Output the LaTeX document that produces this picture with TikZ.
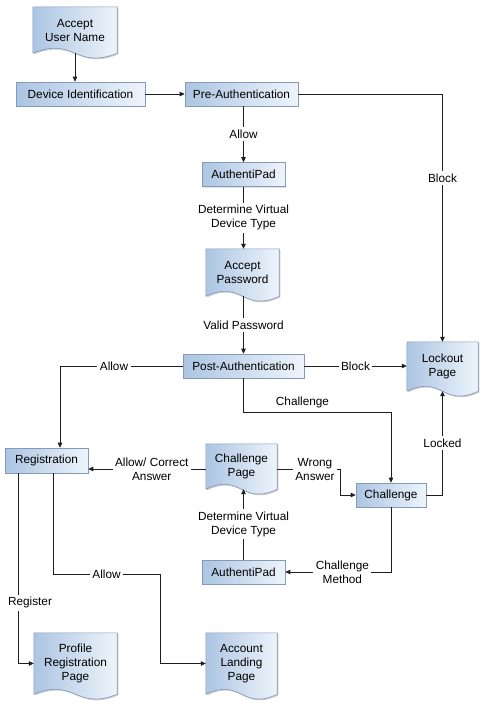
\documentclass[tikz,border=0pt]{standalone}
\usepackage{fontspec}
\setmainfont{Liberation Sans}
\usetikzlibrary{arrows.meta,calc,backgrounds,shadows}
\definecolor{boxL}{RGB}{172,197,226}
\definecolor{boxR}{RGB}{238,244,251}
\definecolor{boxB}{RGB}{130,155,188}
\definecolor{lineC}{RGB}{30,30,30}
\newcommand\docpath[3]{($(#1.north west)+(#2,#3)$) -- ($(#1.north east)+(#2,#3)$) -- ($(#1.south east)+(#2,#3)$) .. controls ($(#1.south)+(#2,#3+17)$) and ($(#1.south)+(#2,#3-17)$) .. ($(#1.south west)+(#2,#3)$) -- cycle}
\tikzset{
 basetext/.style={font=\fontsize{11.8}{14}\selectfont, align=center},
 box/.style={basetext, rectangle, draw=boxB, line width=0.6pt, left color=boxL, right color=boxR,
   minimum height=24pt, inner sep=0pt,
   drop shadow={shadow xshift=1.2pt, shadow yshift=-1.2pt, opacity=0.22}},
 doc/.style={basetext, rectangle, inner sep=0pt},
 docshape/.style={draw=boxB, line width=0.6pt, left color=boxL, right color=boxR},
 docshadow/.style={fill=black, opacity=0.2},
 arr/.style={draw=lineC, line width=0.75pt, -{Triangle[length=5pt,width=4.5pt]}},
 lbl/.style={basetext, fill=white, inner sep=2.5pt},
}
\begin{document}
\begin{tikzpicture}[x=1pt,y=-1pt]
\useasboundingbox (0,0) rectangle (486,705);
% process boxes
\node[box, minimum width=129pt] (devid) at (80.5,94) {Device Identification};
\node[box, minimum width=113pt] (preauth) at (241.5,94) {Pre-Authentication};
\node[box, minimum width=83pt] (authpad1) at (243.5,174.5) {AuthentiPad};
\node[box, minimum width=121pt] (postauth) at (243.5,366) {Post-Authentication};
\node[box, minimum width=83pt, minimum height=25pt] (reg) at (46.5,460.5) {Registration};
\node[box, minimum width=70pt] (challenge) at (391,495) {Challenge};
\node[box, minimum width=83pt] (authpad2) at (243.5,572) {AuthentiPad};
% document nodes
\node[doc, minimum width=84pt, minimum height=46pt] (aun) at (75,30) {Accept\\User Name};
\node[doc, minimum width=73pt, minimum height=47pt] (apw) at (242.5,272.5) {Accept\\Password};
\node[doc, minimum width=71pt, minimum height=49pt] (lock) at (442.5,366.5) {Lockout\\Page};
\node[doc, minimum width=71pt, minimum height=45pt] (chp) at (241.5,466.5) {Challenge\\Page};
\node[doc, minimum width=83pt, minimum height=61pt] (prp) at (75.5,663.5) {Profile\\Registration\\Page};
\node[doc, minimum width=71pt, minimum height=61pt] (alp) at (241.5,663.5) {Account\\Landing\\Page};
\begin{scope}[on background layer]
\foreach \n in {aun,apw,lock,chp,prp,alp}{
  \path[docshadow] \docpath{\n}{1.2}{1.2};
  \path[docshape] \docpath{\n}{0}{0};
}
\end{scope}
\coordinate (chpE) at ([yshift=-2.5pt]chp.east);
\coordinate (chpW) at ([yshift=-2.5pt]chp.west);
% connectors
\draw[arr] (aun.south) -- (aun.south |- devid.north);
\draw[arr] (devid.east) -- (preauth.west);
\draw[arr] (preauth.south -| authpad1.north) -- node[lbl]{Allow} (authpad1.north);
\draw[arr] (authpad1.south) -- node[lbl]{Determine Virtual\\Device Type} (authpad1.south |- apw.north);
\draw[arr] (apw.south -| postauth.north) -- node[lbl]{Valid Password} (postauth.north);
\draw[arr] (preauth.east) -| node[lbl,pos=0.67]{Block} (lock.north);
\draw[arr] (postauth.east) -- node[lbl]{Block} (postauth.east -| lock.west);
\draw[arr] (postauth.west) -| node[lbl,pos=0.28]{Allow} ([xshift=13.5pt]reg.north);
\draw[arr] (postauth.south) |- node[basetext,pos=0.70,above=1pt]{Challenge} ($(challenge.north)+(0,-70)$) -- (challenge.north);
\draw[arr] (challenge.east) -| node[lbl,pos=0.75]{Locked} (lock.south);
\draw[arr] (challenge.south) |- node[lbl,pos=0.73]{Challenge\\Method} (authpad2.east);
\draw[arr] (authpad2.north) -- node[lbl]{Determine Virtual\\Device Type} (authpad2.north |- chp.south);
\draw[arr] (chpE) -- node[lbl,pos=0.6]{Wrong\\Answer} ++(63,0) |- (challenge.west);
\draw[arr] (chpW) -- node[lbl,pos=0.46]{Allow/ Correct\\Answer} (chpW -| reg.east);
\draw[arr] ([xshift=-28.5pt]reg.south) |- node[lbl,pos=0.34,xshift=12pt]{Register} (prp.west);
\draw[arr] ([xshift=6.5pt]reg.south) -- ++(0,101) -- node[lbl]{Allow} ++(107,0) |- (alp.west);
\end{tikzpicture}
\end{document}
